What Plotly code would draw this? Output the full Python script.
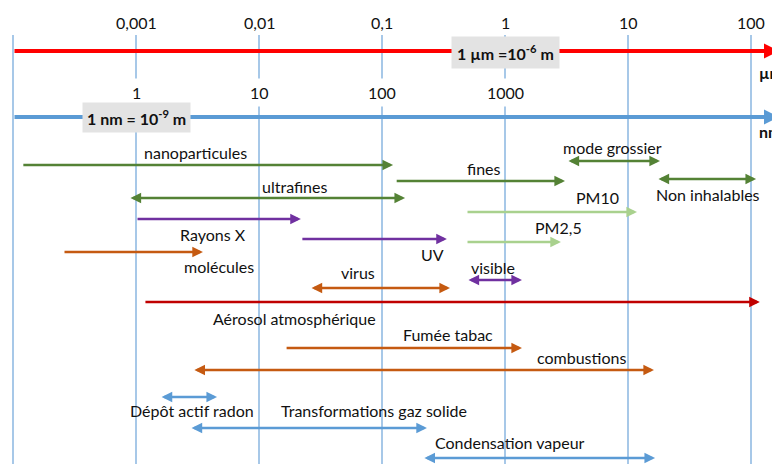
import numpy as np
import plotly.graph_objects as go

# ---------------- data (sizes in nm) ----------------
names = ["nanoparticules", "fines", "mode grossier", "Non inhalables", "ultrafines",
         "PM10", "PM2,5", "Rayons X", "UV", "molécules", "visible", "virus",
         "Aérosol atmosphérique", "Fumée tabac", "combustions",
         "Dépôt actif radon", "Transformations gaz solide", "Condensation vapeur"]
start_nm = [0.118, 128, 3190, 17200, 0.877, 482, 482, 1.0, 21.9, 0.255, 491, 26,
            1.16, 16.3, 2.9, 1.57, 2.75, 215]
end_nm = [123, 3076, 18200, 110000, 154, 11830, 2850, 21.9, 337, 3.5, 1374, 357,
          118000, 1374, 16260, 4.56, 232, 16600]
double_headed = [False, False, True, True, True, False, False, False, False, False,
                 True, True, False, False, True, True, True, True]
family = ["fine", "fine", "fine", "fine", "fine", "pm", "pm", "ray", "ray", "orange",
          "ray", "orange", "aero", "orange", "orange", "blue", "blue", "blue"]

# label anchor positions (nm)
label_nm = [3.02, 675, 7550, 44700, 19.3, 5600, 2700, 4.23, 255, 4.73, 798, 63.8,
            19.3, 344, 4150, 2.85, 86, 1100]

decades_nm = [0.1, 1, 10, 100, 1000, 10000, 100000]
um_ticks_nm = [1, 10, 100, 1000, 10000, 100000]
um_tick_labels = ["0,001", "0,01", "0,1", "1", "10", "100"]
nm_ticks_nm = [1, 10, 100, 1000]
nm_tick_labels = ["1", "10", "100", "1000"]
axis_start_nm = 0.1
axis_end_nm = 169000

# ---------------- layout / style ----------------
PAGE_W, PAGE_H = 780, 464
OFF = 8  # default page body margin
W, H = PAGE_W - OFF, PAGE_H - OFF
row_y = [165, 181, 161, 179, 198, 212, 242, 219, 239, 252, 280, 288, 302, 348, 370,
         397, 428, 458]
label_y = [152, 168, 147, 194, 186, 197, 227, 234, 254, 266, 267, 272, 318, 334, 357,
           410, 410, 442]
colors = {"fine": "#548235", "pm": "#A9D18E", "ray": "#7030A0", "orange": "#C55A11",
          "aero": "#C00000", "blue": "#5B9BD5"}
FONT = "Lato, Open Sans, sans-serif"
FS = 16
L = np.log10

fig = go.Figure()

# vertical decade lines
vx, vy = [], []
for d in decades_nm:
    vx += [d, d, None]
    vy += [35, PAGE_H + 2, None]
fig.add_trace(go.Scatter(x=vx, y=vy, mode="lines",
                         line=dict(color="#8AB6E0", width=1.5),
                         hoverinfo="skip", showlegend=False))

ann = []
# main axes
for yy, col in [(51, "#FF0000"), (117, "#5B9BD5")]:
    ann.append(dict(x=L(axis_end_nm), y=yy, ax=L(axis_start_nm), ay=yy,
                    xref="x", yref="y", axref="x", ayref="y", text="",
                    showarrow=True, arrowhead=2, arrowsize=0.75, arrowwidth=4,
                    arrowcolor=col, arrowside="end"))

# range arrows
for i in range(len(names)):
    ann.append(dict(x=L(end_nm[i]), y=row_y[i], ax=L(start_nm[i]), ay=row_y[i],
                    xref="x", yref="y", axref="x", ayref="y", text="",
                    showarrow=True, arrowhead=2, arrowsize=0.85, arrowwidth=2.5,
                    arrowcolor=colors[family[i]],
                    arrowside="end+start" if double_headed[i] else "end"))
    ann.append(dict(x=L(label_nm[i]), y=label_y[i], xref="x", yref="y",
                    text=names[i], showarrow=False, xanchor="center", yanchor="middle",
                    font=dict(family=FONT, size=FS, color="#111111")))

# tick labels
for v, t in zip(um_ticks_nm, um_tick_labels):
    ann.append(dict(x=L(v), y=22, xref="x", yref="y", text=t, showarrow=False,
                    font=dict(family=FONT, size=FS, color="#111111")))
for v, t in zip(nm_ticks_nm, nm_tick_labels):
    ann.append(dict(x=L(v), y=92, xref="x", yref="y", text=t, showarrow=False,
                    bgcolor="white", borderpad=4,
                    font=dict(family=FONT, size=FS, color="#111111")))

# unit boxes
ann.append(dict(x=L(1000), y=52, xref="x", yref="y",
                text="<b>1 µm =10<sup>-6</sup> m</b>", showarrow=False,
                bgcolor="#E3E3E3", borderpad=5,
                font=dict(family=FONT, size=FS, color="#111111")))
ann.append(dict(x=L(1), y=117, xref="x", yref="y",
                text="<b>1 nm = 10<sup>-9</sup> m</b>", showarrow=False,
                bgcolor="#E3E3E3", borderpad=4,
                font=dict(family=FONT, size=FS, color="#111111")))
ann.append(dict(x=L(112000), y=72, xref="x", yref="y", text="<b>µm</b>",
                showarrow=False, xanchor="left",
                font=dict(family=FONT, size=FS, color="#111111")))
ann.append(dict(x=L(112000), y=131, xref="x", yref="y", text="<b>nm</b>",
                showarrow=False, xanchor="left",
                font=dict(family=FONT, size=FS, color="#111111")))

# axis ranges chosen so that page pixel (OFF..PAGE) maps onto the log scale
x0 = -1 + (OFF - 13) / 123
x1 = -1 + (PAGE_W - 13) / 123
fig.update_layout(
    width=W, height=H, margin=dict(l=0, r=0, t=0, b=0),
    paper_bgcolor="white", plot_bgcolor="white",
    xaxis=dict(type="log", range=[x0, x1], visible=False, fixedrange=True),
    yaxis=dict(range=[PAGE_H, OFF], visible=False, fixedrange=True),
    annotations=ann, showlegend=False,
)
fig.write_html("out.html")
